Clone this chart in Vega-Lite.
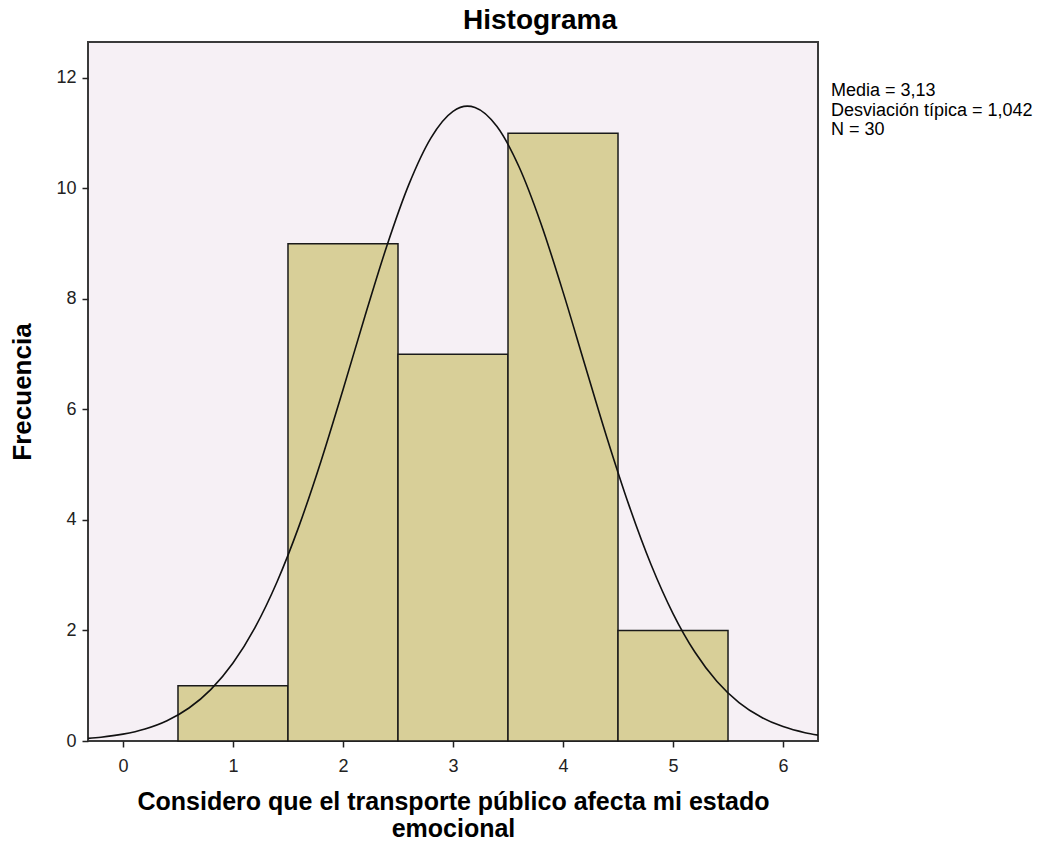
{
  "$schema": "https://vega.github.io/schema/vega-lite/v6.json",
  "width": 730,
  "height": 699,
  "autosize": "none",
  "padding": {"left": 88, "top": 42, "right": 230, "bottom": 106},
  "background": "white",
  "view": {"fill": "#F6F0F5", "stroke": "#3a3a3a", "strokeWidth": 2},
  "title": {"text": "Histograma", "fontSize": 28, "font": "Liberation Sans", "fontWeight": "bold", "color": "black", "offset": 7, "anchor": "middle", "dx": 87},
  "config": {
    "view": {"fill": "#F6F0F5", "stroke": "#3a3a3a", "strokeWidth": 2},
    "axis": {"labelFont": "Liberation Sans", "titleFont": "Liberation Sans", "labelColor": "#222222", "tickColor": "#222222", "domain": false, "grid": false, "labelFontSize": 18, "titleFontSize": 26, "titleFontWeight": "bold", "titleColor": "black", "tickSize": 6, "tickWidth": 1.5}
  },
  "layer": [
    {
      "data": {"values": [
        {"bin_start": 0.5, "bin_end": 1.5, "count": 1},
        {"bin_start": 1.5, "bin_end": 2.5, "count": 9},
        {"bin_start": 2.5, "bin_end": 3.5, "count": 7},
        {"bin_start": 3.5, "bin_end": 4.5, "count": 11},
        {"bin_start": 4.5, "bin_end": 5.5, "count": 2}
      ]},
      "mark": {"type": "rect", "fill": "#D8CF98", "stroke": "#1a1a1a", "strokeWidth": 1.5},
      "encoding": {
        "x": {"field": "bin_start", "type": "quantitative", "scale": {"domain": [-0.318, 6.318], "nice": false, "zero": false},
              "axis": {"values": [0, 1, 2, 3, 4, 5, 6], "format": "d", "title": ["Considero que el transporte público afecta mi estado", "emocional"], "titleFontSize": 25, "titleLineHeight": 27, "titlePadding": 14, "labelPadding": 10}},
        "x2": {"field": "bin_end"},
        "y": {"field": "count", "type": "quantitative", "scale": {"domain": [0, 12.65], "nice": false},
              "axis": {"values": [0, 2, 4, 6, 8, 10, 12], "format": "d", "title": "Frecuencia", "titlePadding": 20, "labelPadding": 6}},
        "y2": {"datum": 0}
      }
    },
    {
      "data": {"values": [
        {"x": -0.32, "y": 0.0473}, {"x": -0.2, "y": 0.0687}, {"x": 0.0, "y": 0.1246}, {"x": 0.2, "y": 0.2181},
        {"x": 0.4, "y": 0.3677}, {"x": 0.6, "y": 0.597}, {"x": 0.8, "y": 0.935}, {"x": 1.0, "y": 1.411},
        {"x": 1.2, "y": 2.0529}, {"x": 1.4, "y": 2.8782}, {"x": 1.6, "y": 3.8888}, {"x": 1.8, "y": 5.0644},
        {"x": 2.0, "y": 6.3573}, {"x": 2.2, "y": 7.6907}, {"x": 2.4, "y": 8.9676}, {"x": 2.6, "y": 10.078},
        {"x": 2.8, "y": 10.916}, {"x": 3.0, "y": 11.395}, {"x": 3.13, "y": 11.489}, {"x": 3.2, "y": 11.465},
        {"x": 3.4, "y": 11.119}, {"x": 3.6, "y": 10.392}, {"x": 3.8, "y": 9.3614}, {"x": 4.0, "y": 8.128},
        {"x": 4.2, "y": 6.8011}, {"x": 4.4, "y": 5.4853}, {"x": 4.6, "y": 4.2642}, {"x": 4.8, "y": 3.1944},
        {"x": 5.0, "y": 2.307}, {"x": 5.2, "y": 1.6053}, {"x": 5.4, "y": 1.077}, {"x": 5.6, "y": 0.6961},
        {"x": 5.8, "y": 0.4338}, {"x": 6.0, "y": 0.2606}, {"x": 6.2, "y": 0.1507}, {"x": 6.32, "y": 0.1067}
      ]},
      "mark": {"type": "line", "color": "#111111", "strokeWidth": 1.6, "interpolate": "monotone", "clip": true},
      "encoding": {
        "x": {"field": "x", "type": "quantitative"},
        "y": {"field": "y", "type": "quantitative"}
      }
    },
    {
      "data": {"values": [
        {"stat": "Media = 3,13"},
        {"stat": "Desviación típica = 1,042"},
        {"stat": "N = 30"}
      ]},
      "mark": {"type": "point", "opacity": 0},
      "encoding": {
        "color": {"field": "stat", "type": "nominal",
          "scale": {"domain": ["Media = 3,13", "Desviación típica = 1,042", "N = 30"], "range": ["black", "black", "black"]},
          "legend": {"orient": "none", "legendX": 725, "legendY": 40, "title": null, "symbolOpacity": 0, "symbolSize": 0, "symbolStrokeWidth": 0, "labelOffset": 0, "labelFont": "Liberation Sans", "labelFontSize": 18, "labelColor": "black", "labelLimit": 400, "rowPadding": 1.5, "padding": 0}
        }
      }
    }
  ]
}
